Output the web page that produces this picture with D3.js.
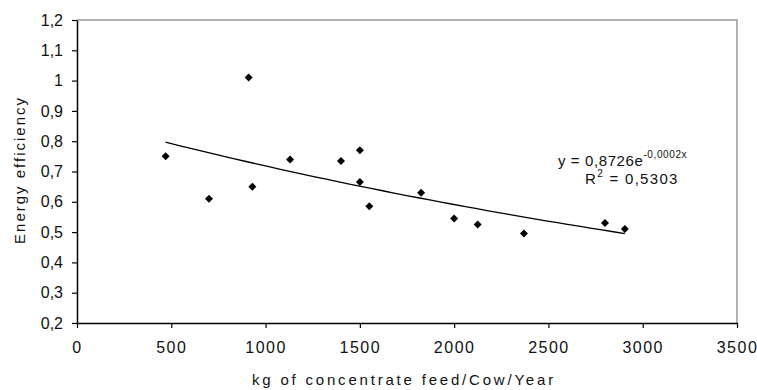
<!DOCTYPE html>
<html>
<head>
<meta charset="utf-8">
<script src="https://cdn.jsdelivr.net/npm/d3@7"></script>
<style>
  body { margin: 0; background: #fff; }
  text { font-family: "Liberation Sans", Arial, sans-serif; fill: #111; }
</style>
</head>
<body>
<div id="chart"></div>
<script>
// data
var feedKg = [470, 700, 910, 930, 1130, 1400, 1500, 1500, 1550, 1825, 2000, 2125, 2370, 2800, 2905];
var efficiency = [0.75, 0.61, 1.01, 0.65, 0.74, 0.735, 0.77, 0.665, 0.585, 0.63, 0.545, 0.525, 0.495, 0.53, 0.51];
var xTicks = [0, 500, 1000, 1500, 2000, 2500, 3000, 3500];
var yTicks = [0.2, 0.3, 0.4, 0.5, 0.6, 0.7, 0.8, 0.9, 1, 1.1, 1.2];
var eqText = "y = 0,8726e";
var eqExp = "-0,0002x";
var r2Text = "0,5303";

var width = 757, height = 390;
var margin = {top: 20, right: 20, bottom: 67, left: 77};

var svg = d3.select("#chart").append("svg")
    .attr("width", width)
    .attr("height", height);

var x = d3.scaleLinear().domain([0, 3500]).range([margin.left, width - margin.right]);
var y = d3.scaleLinear().domain([0.2, 1.2]).range([height - margin.bottom, margin.top]);

// comma decimals
var loc = d3.formatLocale({decimal: ",", thousands: ".", grouping: [3], currency: ["", ""]});
var fmtY = loc.format(".1~f");

// plot area border (gray top/right)
svg.append("path")
    .attr("d", "M" + x(0) + "," + y(1.2) + "H" + x(3500) + "V" + y(0.2))
    .attr("fill", "none")
    .attr("stroke", "#999")
    .attr("stroke-width", 1.5);

// axes
var xAxis = svg.append("g")
    .attr("transform", "translate(0," + y(0.2) + ")")
    .call(d3.axisBottom(x).tickValues(xTicks).tickSize(5).tickSizeOuter(0).tickPadding(14).tickFormat(d3.format("d")));

var yAxis = svg.append("g")
    .attr("transform", "translate(" + x(0) + ",0)")
    .call(d3.axisLeft(y).tickValues(yTicks).tickSize(5).tickSizeOuter(0).tickPadding(9).tickFormat(fmtY));

[xAxis, yAxis].forEach(function(a) {
    a.select(".domain").attr("stroke", "#000").attr("stroke-width", 1.5);
    a.selectAll(".tick line").attr("stroke", "#000").attr("stroke-width", 1.2);
    a.selectAll("text").style("font-size", "16px").attr("fill", "#111")
        .style("font-family", "'Liberation Sans', Arial, sans-serif");
});
xAxis.selectAll("text").style("letter-spacing", "1.5px");

// exponential trendline, least squares on ln(y) like the spreadsheet does
var n = feedKg.length;
var sx = d3.sum(feedKg), sl = d3.sum(efficiency, function(v) { return Math.log(v); });
var sxx = d3.sum(feedKg, function(v) { return v * v; });
var sxl = d3.sum(feedKg, function(v, i) { return v * Math.log(efficiency[i]); });
var b = (n * sxl - sx * sl) / (n * sxx - sx * sx);
var lnA = (sl - b * sx) / n;
var xMin = d3.min(feedKg), xMax = d3.max(feedKg);
var trend = d3.range(0, 41).map(function(i) {
    var xv = xMin + (xMax - xMin) * i / 40;
    return [xv, Math.exp(lnA + b * xv)];
});

svg.append("path")
    .datum(trend)
    .attr("fill", "none")
    .attr("stroke", "#000")
    .attr("stroke-width", 1.3)
    .attr("d", d3.line().x(function(d) { return x(d[0]); }).y(function(d) { return y(d[1]); }));

// diamond markers
svg.selectAll(".pt")
    .data(feedKg)
    .enter().append("path")
    .attr("class", "pt")
    .attr("transform", function(d, i) { return "translate(" + x(d) + "," + y(efficiency[i]) + ")"; })
    .attr("d", "M0,-4L4,0L0,4L-4,0Z")
    .attr("fill", "#000");

// equation label
var eq = svg.append("text")
    .attr("x", 558)
    .attr("y", 166)
    .style("font-size", "15px")
    .style("letter-spacing", "0.6px");
eq.append("tspan").text(eqText);
eq.append("tspan").attr("dy", -8).style("font-size", "10px").text(eqExp);

var r2 = svg.append("text")
    .attr("x", 585)
    .attr("y", 184)
    .style("font-size", "15px")
    .style("letter-spacing", "1.3px");
r2.append("tspan").text("R");
r2.append("tspan").attr("dy", -7).style("font-size", "10px").text("2");
r2.append("tspan").attr("dy", 7).text(" = " + r2Text);

// axis titles
svg.append("text")
    .attr("x", 404)
    .attr("y", 385)
    .attr("text-anchor", "middle")
    .style("font-size", "15px")
    .style("letter-spacing", "2.8px")
    .text("kg of concentrate feed/Cow/Year");

svg.append("text")
    .attr("transform", "translate(25,170) rotate(-90)")
    .attr("text-anchor", "middle")
    .style("font-size", "15px")
    .style("letter-spacing", "2px")
    .text("Energy efficiency");
</script>
</body>
</html>
